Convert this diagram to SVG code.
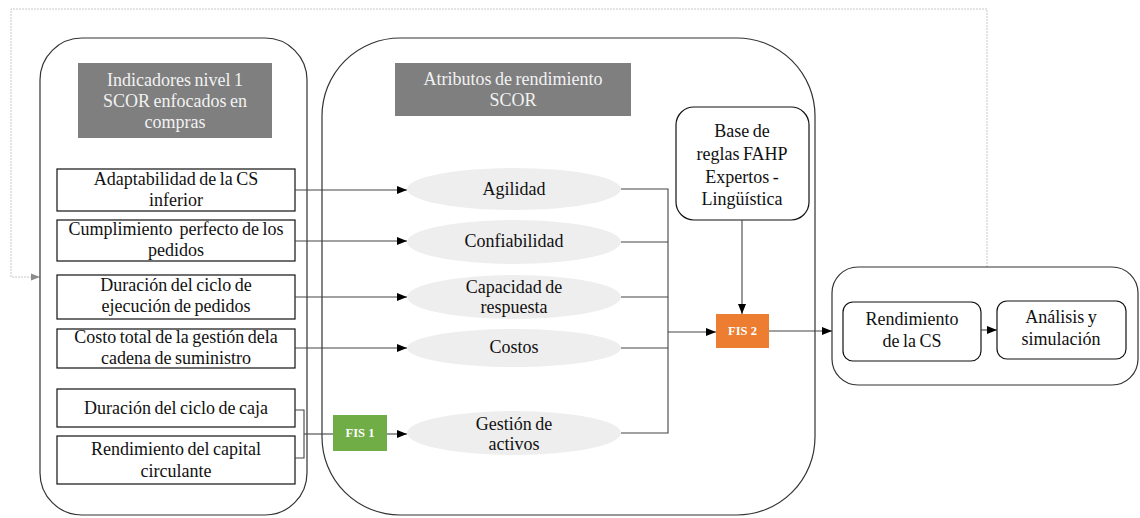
<svg xmlns="http://www.w3.org/2000/svg" width="1140" height="518" viewBox="0 0 1140 518">
  <defs>
    <marker id="arrow" viewBox="0 0 10 10" refX="10" refY="5" markerWidth="10" markerHeight="10" markerUnits="userSpaceOnUse" orient="auto">
      <path d="M0,1 L10,5 L0,9 z" fill="#000"/>
    </marker>
    <marker id="arrow-grey" viewBox="0 0 10 10" refX="10" refY="5" markerWidth="9" markerHeight="9" markerUnits="userSpaceOnUse" orient="auto">
      <path d="M0,1 L10,5 L0,9 z" fill="#8c8c8c"/>
    </marker>
  </defs>
  <style>
    .container { fill: #fff; stroke: #333; stroke-width: 1.2; }
    .header { fill: #7f7f7f; }
    .header-text { fill: #f2f2f2; font-family: "Liberation Serif", "Times New Roman", serif; font-size: 18px; text-anchor: middle; word-spacing: -1px; }
    .box { fill: #fff; stroke: #111; stroke-width: 1.2; }
    .label { fill: #111; font-family: "Liberation Serif", "Times New Roman", serif; font-size: 18px; text-anchor: middle; word-spacing: -1px; }
    .attr { fill: #eeeeee; }
    .fis-text { fill: #fff; font-family: "Liberation Serif", "Times New Roman", serif; font-size: 12.5px; font-weight: bold; text-anchor: middle; }
    .wire { fill: none; stroke: #444; stroke-width: 1.1; }
    .feedback { fill: none; stroke: #c8c8c8; stroke-width: 1; stroke-dasharray: 2 1; }
  </style>

  <!-- feedback loop around the whole model -->
  <g id="feedback">
    <polyline class="feedback" points="987,267 987,9 11,9 11,277 40,277" marker-end="url(#arrow-grey)"/>
  </g>

  <!-- left panel: level 1 indicators -->
  <g id="panel-indicadores">
    <rect class="container" x="40" y="38" width="267" height="477" rx="42" ry="42"/>
    <rect class="header" x="78" y="63" width="194" height="75"/>
    <text class="header-text" x="175" y="86">Indicadores nivel 1</text>
    <text class="header-text" x="175" y="107">SCOR enfocados en</text>
    <text class="header-text" x="175" y="128">compras</text>
  </g>

  <!-- middle panel: performance attributes -->
  <g id="panel-atributos">
    <rect class="container" x="322" y="38" width="493" height="477" rx="78" ry="78"/>
    <rect class="header" x="395" y="63" width="236" height="53"/>
    <text class="header-text" x="513" y="85">Atributos de rendimiento</text>
    <text class="header-text" x="513" y="106">SCOR</text>
  </g>

  <!-- right panel: results -->
  <g id="panel-resultados">
    <rect class="container" x="832" y="267" width="306" height="118" rx="26" ry="26"/>
  </g>

  <!-- indicator boxes -->
  <g id="ind-adaptabilidad">
    <rect class="box" x="57" y="169" width="238" height="42"/>
    <text class="label" x="176" y="185">Adaptabilidad de la CS</text>
    <text class="label" x="176" y="206">inferior</text>
  </g>
  <g id="ind-cumplimiento">
    <rect class="box" x="57" y="220" width="238" height="41"/>
    <text class="label" x="176" y="235" xml:space="preserve">Cumplimiento  perfecto de los</text>
    <text class="label" x="176" y="256">pedidos</text>
  </g>
  <g id="ind-duracion-pedidos">
    <rect class="box" x="57" y="275" width="238" height="44"/>
    <text class="label" x="176" y="291">Duración del ciclo de</text>
    <text class="label" x="176" y="312">ejecución de pedidos</text>
  </g>
  <g id="ind-costo">
    <rect class="box" x="57" y="329" width="238" height="39"/>
    <text class="label" x="176" y="343">Costo total de la gestión dela</text>
    <text class="label" x="176" y="364">cadena de suministro</text>
  </g>
  <g id="ind-caja">
    <rect class="box" x="57" y="389" width="238" height="38"/>
    <text class="label" x="176" y="414">Duración del ciclo de caja</text>
  </g>
  <g id="ind-capital">
    <rect class="box" x="57" y="436" width="238" height="48"/>
    <text class="label" x="176" y="455">Rendimiento del capital</text>
    <text class="label" x="176" y="477">circulante</text>
  </g>

  <!-- performance attributes -->
  <g id="attr-agilidad">
    <ellipse class="attr" cx="514" cy="189" rx="107" ry="21"/>
    <text class="label" x="514" y="195">Agilidad</text>
  </g>
  <g id="attr-confiabilidad">
    <ellipse class="attr" cx="514" cy="242" rx="107" ry="22"/>
    <text class="label" x="514" y="247">Confiabilidad</text>
  </g>
  <g id="attr-capacidad">
    <ellipse class="attr" cx="514" cy="297" rx="107" ry="22"/>
    <text class="label" x="514" y="293">Capacidad de</text>
    <text class="label" x="514" y="313">respuesta</text>
  </g>
  <g id="attr-costos">
    <ellipse class="attr" cx="514" cy="348" rx="107" ry="19"/>
    <text class="label" x="514" y="353">Costos</text>
  </g>
  <g id="attr-activos">
    <ellipse class="attr" cx="514" cy="433" rx="107" ry="22"/>
    <text class="label" x="514" y="430">Gestión de</text>
    <text class="label" x="514" y="450">activos</text>
  </g>

  <!-- fuzzy inference systems -->
  <g id="fis1">
    <rect x="333" y="415" width="54" height="36" fill="#70ad47"/>
    <text class="fis-text" x="360" y="437">FIS 1</text>
  </g>
  <g id="fis2">
    <rect x="716" y="314" width="53" height="34" fill="#ed7d31"/>
    <text class="fis-text" x="742.5" y="335">FIS 2</text>
  </g>

  <!-- rule base -->
  <g id="reglas">
    <rect class="box" x="676" y="107" width="133" height="113" rx="18" ry="18" stroke="#444"/>
    <text class="label" x="742" y="137">Base de</text>
    <text class="label" x="742" y="160">reglas FAHP</text>
    <text class="label" x="742" y="183">Expertos -</text>
    <text class="label" x="742" y="205">Lingüística</text>
  </g>

  <!-- results -->
  <g id="rendimiento-cs">
    <rect class="box" x="843" y="302" width="138" height="59" rx="10" ry="10" stroke="#333"/>
    <text class="label" x="912" y="325">Rendimiento</text>
    <text class="label" x="912" y="347">de la CS</text>
  </g>
  <g id="analisis">
    <rect class="box" x="997" y="301" width="129" height="58" rx="10" ry="10" stroke="#333"/>
    <text class="label" x="1061" y="323">Análisis y</text>
    <text class="label" x="1061" y="345">simulación</text>
  </g>

  <!-- connectors -->
  <g id="connectors">
    <line class="wire" x1="295" y1="190" x2="407" y2="190" marker-end="url(#arrow)"/>
    <line class="wire" x1="295" y1="241" x2="407" y2="241" marker-end="url(#arrow)"/>
    <line class="wire" x1="295" y1="297" x2="407" y2="297" marker-end="url(#arrow)"/>
    <line class="wire" x1="295" y1="348" x2="407" y2="348" marker-end="url(#arrow)"/>

    <!-- bracket joining the two cash indicators into FIS 1 -->
    <polyline class="wire" points="295,410 304,410 304,458 295,458"/>
    <line class="wire" x1="304" y1="434" x2="333" y2="434"/>
    <line class="wire" x1="387" y1="434" x2="407" y2="434" marker-end="url(#arrow)"/>

    <!-- attributes collected into FIS 2 -->
    <polyline class="wire" points="621,189 668,189 668,433 621,433"/>
    <line class="wire" x1="621" y1="242" x2="668" y2="242"/>
    <line class="wire" x1="621" y1="297" x2="668" y2="297"/>
    <line class="wire" x1="621" y1="348" x2="668" y2="348"/>
    <line class="wire" x1="668" y1="332" x2="716" y2="332" stroke="#111" stroke-width="2" marker-end="url(#arrow)"/>

    <line class="wire" x1="742" y1="220" x2="742" y2="314" marker-end="url(#arrow)"/>
    <line class="wire" x1="769" y1="331" x2="832" y2="331" marker-end="url(#arrow)"/>
    <line class="wire" x1="981" y1="330" x2="997" y2="330" marker-end="url(#arrow)"/>
  </g>
</svg>
